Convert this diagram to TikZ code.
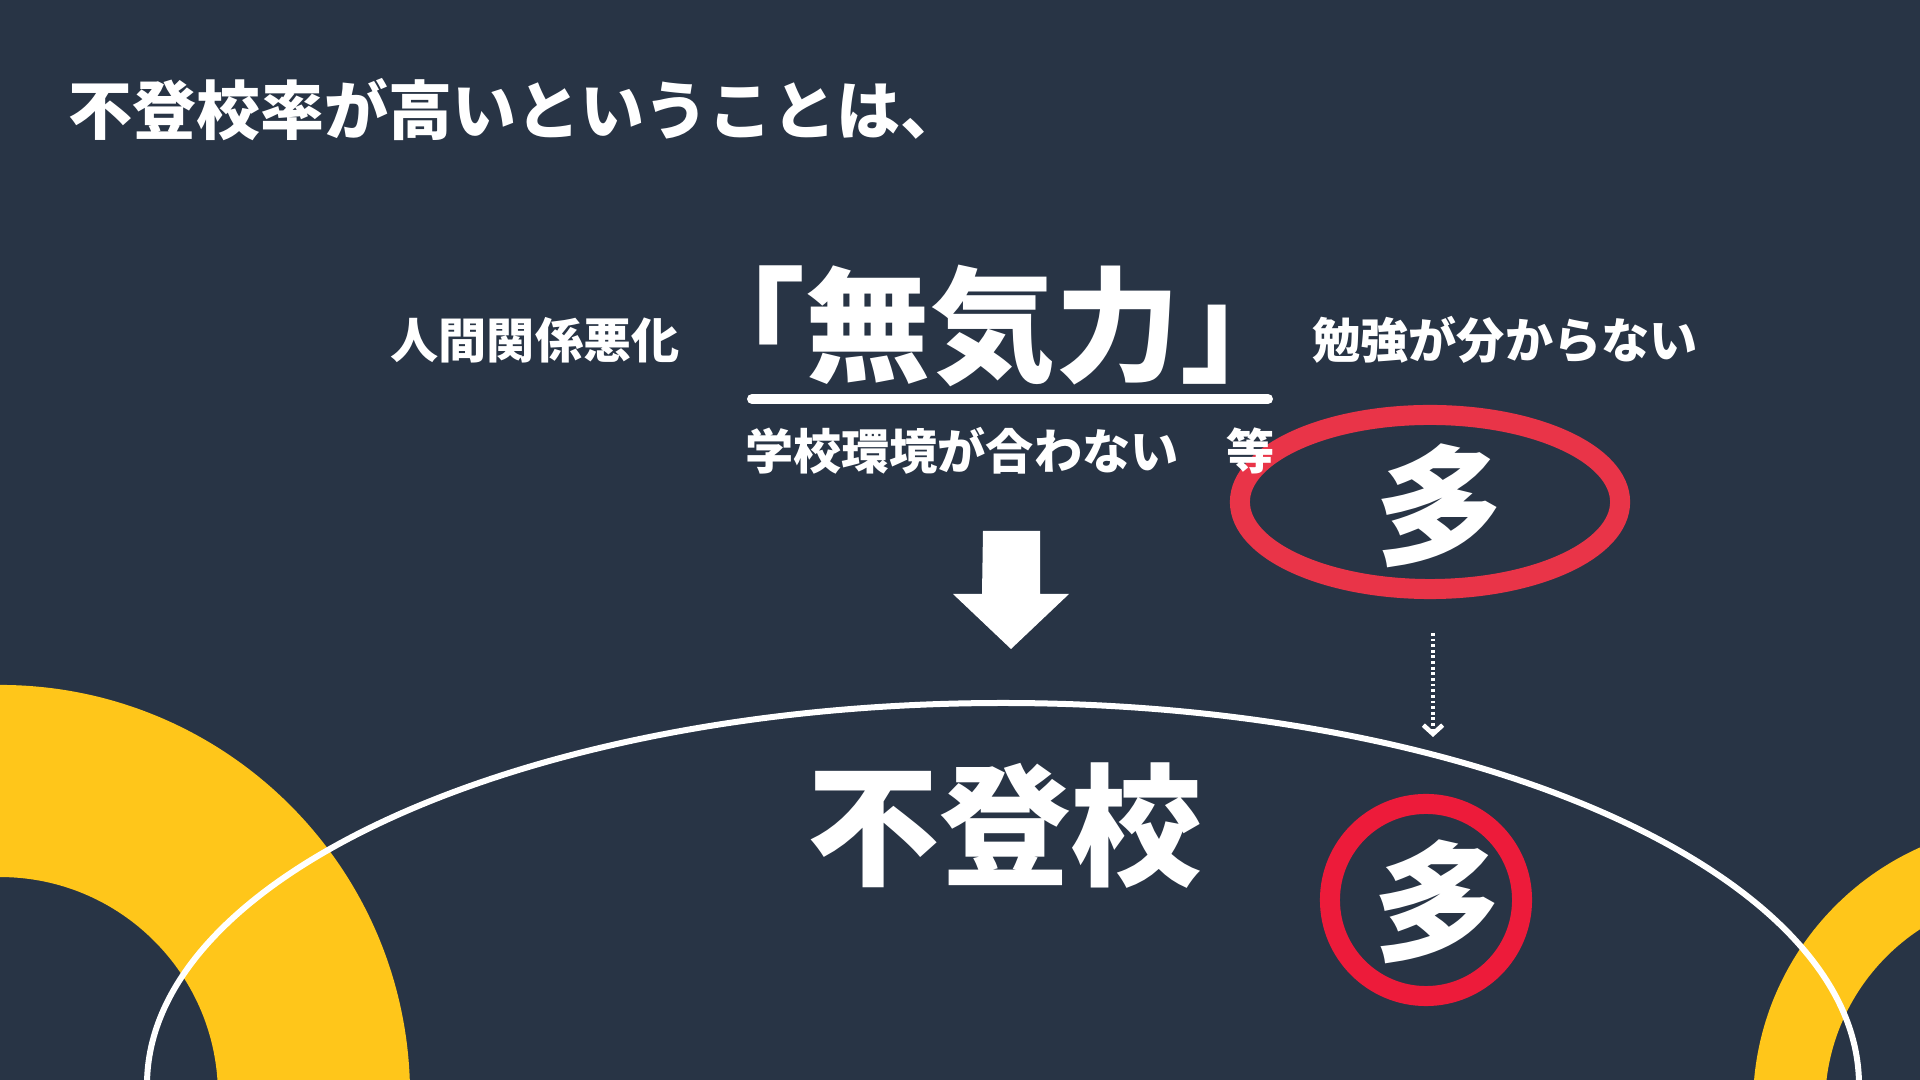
\documentclass[tikz,border=0pt]{standalone}
\usepackage{fontspec}
\setmainfont{Noto Sans CJK JP}
\newfontfamily\jpslant{Noto Sans CJK JP}[FakeSlant=0.2]
\usepackage{tikz}
\usetikzlibrary{arrows.meta,positioning,shapes.geometric}
\definecolor{slidebg}{RGB}{40,52,69}
\definecolor{ringyellow}{RGB}{255,198,26}
\definecolor{ovalred}{RGB}{233,52,72}
\definecolor{circred}{RGB}{237,27,58}
\tikzset{
  txt_title/.style={inner sep=0pt,text=white,
    font=\fontsize{18.2}{20}\selectfont\bfseries},
  txt_cause/.style={inner sep=0pt,text=white,
    font=\fontsize{13.7}{16}\selectfont\bfseries},
  txt_big/.style={inner sep=0pt,text=white,
    font=\fontsize{35.5}{40}\selectfont\bfseries},
  txt_many/.style={inner sep=0pt,text=white,
    font=\jpslant\fontsize{37}{40}\selectfont\bfseries},
  ring_oval/.style={ellipse,draw=ovalred,line width=2mm,
    minimum width=3.8cm,minimum height=1.74cm,inner sep=0pt},
  ring_circ/.style={circle,draw=circred,line width=2mm,
    minimum size=1.92cm,inner sep=0pt},
  arr_dot/.style={draw=white,line width=1.3pt,
    dash pattern=on 0.8pt off 0.8pt,
    -{Straight Barb[length=2.5pt,width=5.5pt]}},
}

\begin{document}
\begin{tikzpicture}[x=0.01cm,y=-0.01cm]
  % --- Slide background ---
  \fill[slidebg] (0,0) rectangle (1920,1080);
  \useasboundingbox (0,0) rectangle (1920,1080);

  % --- Decorative rings ---
  \begin{scope}
    \clip (0,0) rectangle (1920,1080);
    \draw[ringyellow,line width=1.92cm] (0,1095) circle[radius=314];
    \draw[ringyellow,line width=0.72cm] (2035,1105) circle[radius=246];
    \draw[white,line width=0.06cm] (1003,1085) ellipse[x radius=856,y radius=382];
  \end{scope}

  % --- Heading ---
  \node[txt_title,anchor=west] (title) at (68,110) {不登校率が高いということは、};

  % --- Many (upper) ---
  \node[ring_oval] (oval) at (1430,502) {};
  \node[txt_many]  (many1) at (1430,506) {多};

  % --- Causes ---
  \node[txt_big]   (muki)    at (993,326)  {「無気力」};
  \node[txt_cause] (kankei)  at (535,340)  {人間関係悪化};
  \node[txt_cause] (benkyou) at (1505,340) {勉強が分からない};
  \node[txt_cause] (gakkou)  at (1010,451) {学校環境が合わない　等};
  \draw[white,line width=0.1cm,line cap=round] (752,399) -- (1268,399);

  % --- Block arrow down ---
  \coordinate (barrow) at (1011,531);
  \fill[white] (barrow) ++(-28,0) -- ++(57,0) -- ++(0,63) -- ++(29,0)
    -- ++(-58,55) -- ++(-58,-55) -- ++(29,0) -- cycle;

  % --- Result ---
  \node[txt_big,font=\fontsize{37.5}{40}\selectfont\bfseries] (futoukou) at (1005,826) {不登校};
  \node[ring_circ] (circ) at (1426,900) {};
  \node[txt_many]  (many2) at (1428,902) {多};

  % --- Dotted link ---
  \coordinate (dot_top) at (1433,633);
  \coordinate (dot_bot) at (1433,737);
  \draw[arr_dot] (dot_top) -- (dot_bot);
\end{tikzpicture}
\end{document}
